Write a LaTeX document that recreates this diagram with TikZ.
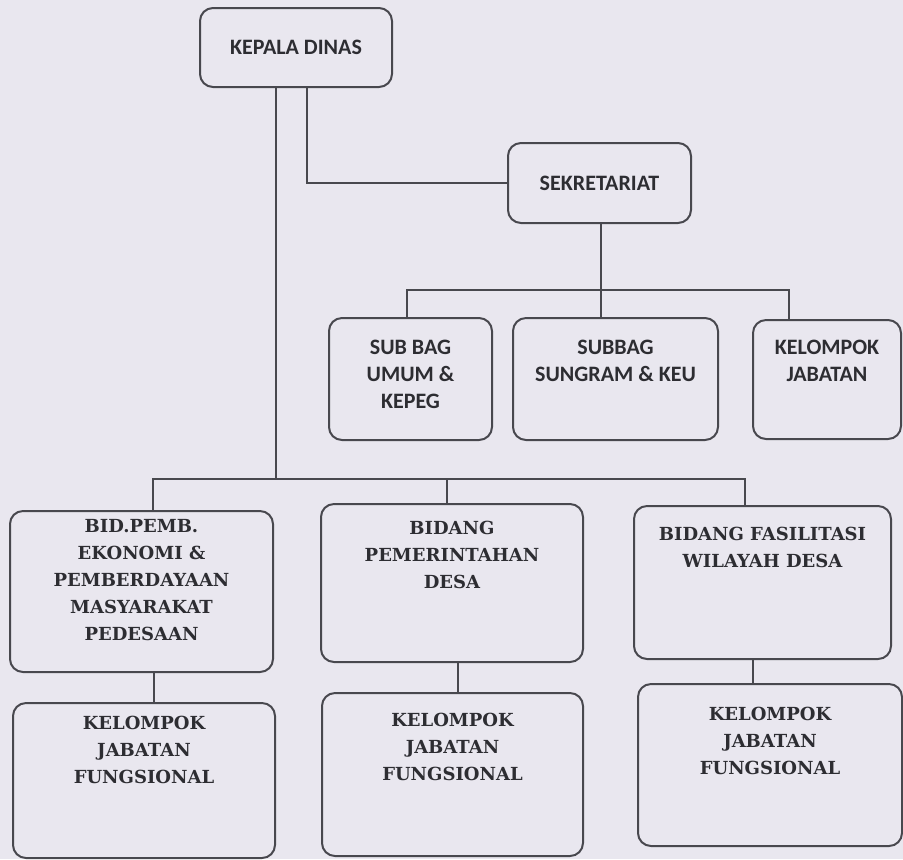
\documentclass[tikz,border=0pt]{standalone}
\usepackage{fontspec}
\newfontfamily\sanshuruf{Carlito}
\newfontfamily\serifhuruf{DejaVu Serif}
\definecolor{kertas}{RGB}{233,231,239}
\definecolor{garis}{RGB}{72,72,78}
\definecolor{tinta}{RGB}{45,45,50}
\newcommand{\kotak}[4]{\parbox[c][#2][t]{#1}{\centering\vspace*{#3}#4\par}}
\newcommand{\atas}{\sanshuruf\bfseries\fontsize{11pt}{13.5pt}\selectfont}
\newcommand{\bawah}{\serifhuruf\bfseries\fontsize{9pt}{13.5pt}\selectfont}
\tikzset{
  kotakjab/.style={draw=garis, line width=1pt, rounded corners=6.5pt, text=tinta},
  hubung/.style={draw=garis, line width=1pt}
}

\begin{document}
\begin{tikzpicture}[x=0.5pt,y=0.5pt]
    \tikzstyle{every node}+=[inner sep=0pt]
    \useasboundingbox (0,0) rectangle (903,-859);
    \fill [kertas] (0,0) rectangle (903,-859);
    \node [kotakjab] (kd) at (296,-47.5) {\kotak{96pt}{39.5pt}{16pt}{\atas KEPALA DINAS}};
    \node [kotakjab] (sek) at (599.5,-183) {\kotak{91.5pt}{40pt}{16.5pt}{\atas SEKRETARIAT}};
    \node [kotakjab] (sbu) at (410.5,-379) {\kotak{81.5pt}{61pt}{11pt}{\atas SUB BAG\\UMUM \&\\KEPEG}};
    \node [kotakjab] (sbk) at (615.5,-379) {\kotak{102.5pt}{61pt}{11pt}{\atas SUBBAG\\SUNGRAM \& KEU}};
    \node [kotakjab] (kj) at (827,-379.5) {\kotak{74pt}{59.5pt}{10pt}{\atas KELOMPOK\\JABATAN}};
    \node [kotakjab] (bpe) at (141.5,-591.5) {\kotak{131.5pt}{80.5pt}{4pt}{\bawah BID.PEMB.\\EKONOMI \&\\PEMBERDAYAAN\\MASYARAKAT\\PEDESAAN}};
    \node [kotakjab] (bpd) at (452,-583) {\kotak{131pt}{79pt}{8.5pt}{\bawah BIDANG\\PEMERINTAHAN\\DESA}};
    \node [kotakjab] (bfw) at (762.5,-582.5) {\kotak{128.5pt}{76.5pt}{10.5pt}{\bawah BIDANG FASILITASI\\WILAYAH DESA}};
    \node [kotakjab] (kf1) at (144,-780.5) {\kotak{131pt}{77.5pt}{6.5pt}{\bawah KELOMPOK\\JABATAN\\FUNGSIONAL}};
    \node [kotakjab] (kf2) at (452.5,-774.5) {\kotak{130.5pt}{81.5pt}{10pt}{\bawah KELOMPOK\\JABATAN\\FUNGSIONAL}};
    \node [kotakjab] (kf3) at (770,-765) {\kotak{132pt}{81pt}{11.5pt}{\bawah KELOMPOK\\JABATAN\\FUNGSIONAL}};
    \coordinate (s1) at (307,-181);
    \coordinate (sA) at (407,-290);
    \coordinate (sB) at (601,-290);
    \coordinate (sC) at (789,-290);
    \coordinate (t1) at (276,-479);
    \coordinate (bA) at (153,-479);
    \coordinate (bB) at (447,-479);
    \coordinate (bC) at (745,-479);
    \coordinate (fA) at (154,-690);
    \coordinate (fB) at (458,-680);
    \coordinate (fC) at (753,-670);
    \draw [hubung] (kd.south -| s1) |- (sek.west);
    \draw [hubung] (sek.south -| sB) -- (sB);
    \draw [hubung] (sA |- sbu.north) -- (sA) -- (sC) -- (sC |- kj.north);
    \draw [hubung] (sB) -- (sB |- sbk.north);
    \draw [hubung] (kd.south -| t1) -- (t1);
    \draw [hubung] (bA |- bpe.north) -- (bA) -- (bC) -- (bC |- bfw.north);
    \draw [hubung] (bB) -- (bB |- bpd.north);
    \draw [hubung] (bpe.south -| fA) -- (kf1.north -| fA);
    \draw [hubung] (bpd.south -| fB) -- (kf2.north -| fB);
    \draw [hubung] (bfw.south -| fC) -- (kf3.north -| fC);
\end{tikzpicture}
\end{document}
